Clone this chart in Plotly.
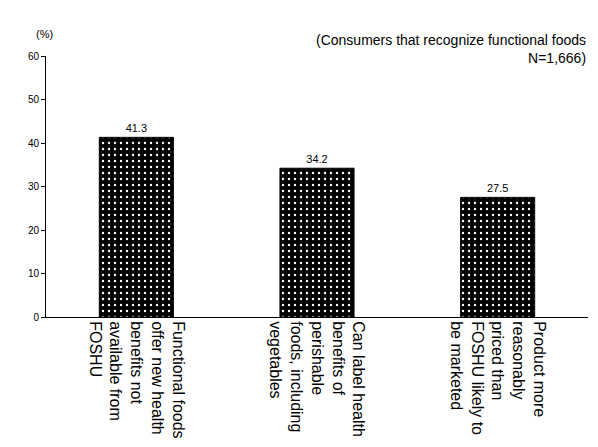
import plotly.graph_objects as go

categories = [
    "Functional foods<br>offer new health<br>benefits not<br>available from<br>FOSHU",
    "Can label health<br>benefits of<br>perishable<br>foods, including<br>vegetables",
    "Product more<br>reasonably<br>priced than<br>FOSHU likely to<br>be marketed",
]
values = [41.3, 34.2, 27.5]

fig = go.Figure(go.Bar(
    x=categories,
    y=values,
    width=0.41,
    marker=dict(
        color="black",
        line=dict(color="black", width=1),
        pattern=dict(shape=".", bgcolor="black", fgcolor="white", size=6, solidity=0.12, fillmode="replace"),
    ),
    text=[f"{v:.1f}" for v in values],
    textposition="outside",
    textfont=dict(size=11, color="black"),
))

fig.update_layout(
    width=598, height=447,
    margin=dict(l=38, r=18, t=48, b=138),
    plot_bgcolor="white", paper_bgcolor="white",
    font=dict(family="Liberation Sans, Arial", color="black"),
    showlegend=False,
    xaxis=dict(tickangle=90, tickfont=dict(size=16), showline=True, linecolor="black",
               ticks="", showgrid=False),
    yaxis=dict(range=[0, 60], dtick=10, tickfont=dict(size=10), showline=True, linecolor="black",
               ticks="outside", ticklen=4, tickcolor="black", showgrid=False, zeroline=False),
    annotations=[
        dict(text="(%)", x=0, y=1.0, xref="paper", yref="paper", xshift=-12, yshift=30,
             showarrow=False, font=dict(size=11)),
        dict(text="(Consumers that recognize functional foods<br>N=1,666)", x=1, y=1.0,
             xref="paper", yref="paper", xanchor="right", yanchor="bottom", yshift=-12,
             align="right", showarrow=False, font=dict(size=14)),
    ],
)

fig.write_html("out.html")
